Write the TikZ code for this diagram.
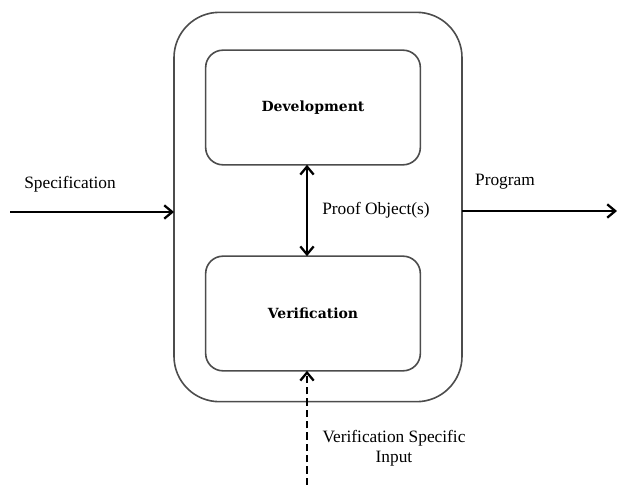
\documentclass[tikz,border=0pt]{standalone}
\usepackage{fontspec}
\setmainfont{Liberation Serif}
\newfontfamily\slabfont{DejaVu Serif}
\usetikzlibrary{arrows.meta}
\begin{document}
\begin{tikzpicture}[x=0.75pt, y=-0.75pt]
\tikzstyle{every node} = [font=\fontsize{13}{15}\selectfont, align=center]
\tikzstyle{box} = [draw=black!70, line width=1.2pt, inner sep=0pt, outer sep=0pt]
\tikzstyle{flow} = [line width=2.1pt, -{Straight Barb[length=6pt, width=10pt, line width=1.7pt]}]
\useasboundingbox (0,0) rectangle (617,485);
\node[box, rounded corners=34pt, minimum width=216pt, minimum height=292pt] (outer) at (318, 207) {};
\node[box, rounded corners=13pt, minimum width=161pt, minimum height=86pt, font=\slabfont\bfseries\fontsize{10.5}{12}\selectfont] (dev) at (313, 107.5) {Development};
\node[box, rounded corners=13pt, minimum width=161pt, minimum height=86pt, font=\slabfont\bfseries\fontsize{10.5}{12}\selectfont] (ver) at (313, 313.5) {Verification};
\coordinate (in) at (10, 212);
\coordinate (out) at (617, 211);
\coordinate (vin) at (307, 485);
\node (spec) at (70, 184) {Specification};
\node (prog) at (505, 182) {Program};
\node (proof) at (376, 210) {Proof Object(s)};
\node (vsi) at (394, 448) {Verification Specific\\ Input};
\draw [flow] (in) -- (outer.west |- in);
\draw [flow] (outer.east |- out) -- (out);
\draw [flow, {Straight Barb[length=6pt, width=10pt, line width=1.7pt]}-{Straight Barb[length=6pt, width=10pt, line width=1.7pt]}] (dev.south -| vin) -- (ver.north -| vin);
\draw [flow, dash pattern=on 5.5pt off 3pt] (vin) -- (ver.south -| vin);
\end{tikzpicture}
\end{document}
